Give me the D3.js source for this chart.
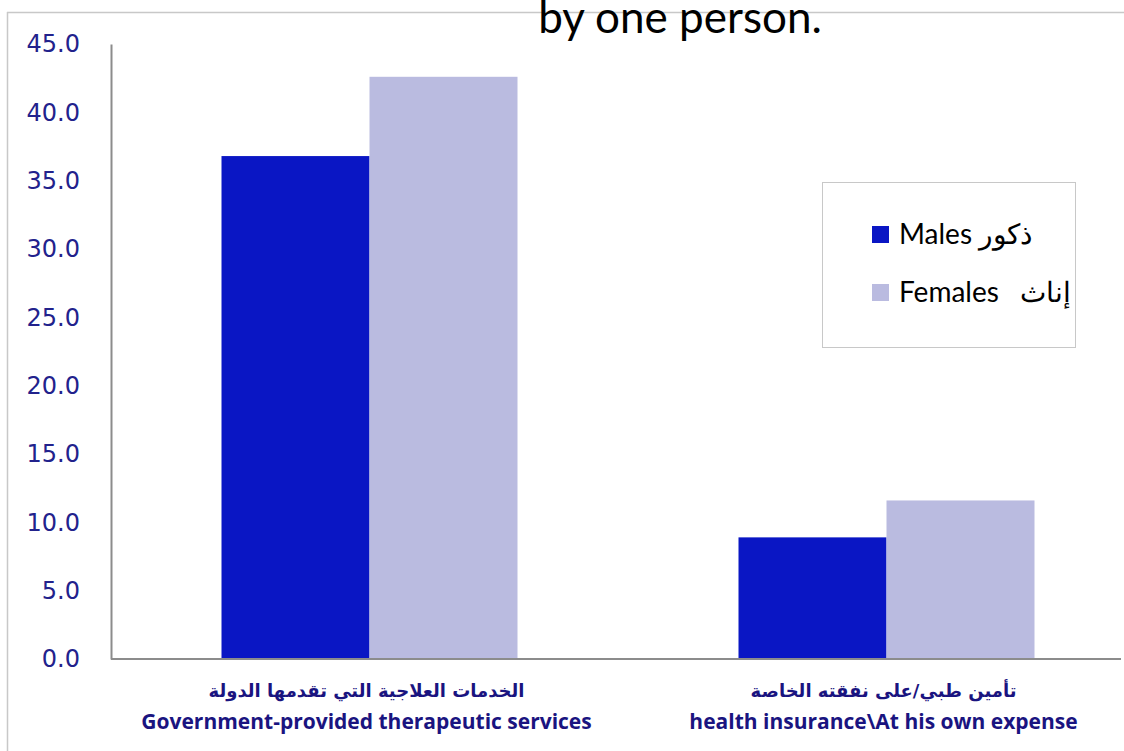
<!DOCTYPE html>
<html>
<head>
<meta charset="utf-8">
<script src="https://cdn.jsdelivr.net/npm/d3@7"></script>
<style>
  body { margin: 0; background: #fff; }
  svg { display: block; }
</style>
</head>
<body>
<div id="chart"></div>
<script>
// data
const categories = ["gov", "insurance"];
const categoryArabic = ["الخدمات العلاجية التي تقدمها الدولة", "تأمين طبي/على نفقته الخاصة"];
const categoryEnglish = ["Government-provided therapeutic services", "health insurance\\At his own expense"];
const seriesNames = ["Males ذكور", "Females   إناث"];
const males = [36.8, 8.9];
const females = [42.6, 11.6];
const yTicks = [0, 5, 10, 15, 20, 25, 30, 35, 40, 45];
const titleText = "by one person.";

const W = 1124, H = 751;
const colors = ["#0a16c4", "#babbe0"];

const svg = d3.select("#chart").append("svg")
    .attr("width", W)
    .attr("height", H);

// frame of the slide
svg.append("line").attr("x1", 7.5).attr("x2", 7.5).attr("y1", 12).attr("y2", H)
    .attr("stroke", "#c8c8c8").attr("stroke-width", 1.5);
svg.append("line").attr("x1", 7).attr("x2", W).attr("y1", 12.5).attr("y2", 12.5)
    .attr("stroke", "#c8c8c8").attr("stroke-width", 1.5);

const margin = {left: 111, top: 44, bottom: 659};

const y = d3.scaleLinear().domain([0, 45]).range([margin.bottom, margin.top]);

// plot extends past the right edge (picture is cropped)
const x0 = d3.scaleBand().domain(categories).range([margin.left, margin.left + 1034]);
const groupW = 296;
const x1 = d3.scaleBand().domain([0, 1]).range([0, groupW]);

const data = categories.map((c, i) => ({cat: c, vals: [males[i], females[i]]}));

// bars
const groups = svg.selectAll(".grp").data(data).enter().append("g")
    .attr("transform", d => "translate(" + (x0(d.cat) + (x0.bandwidth() - groupW) / 2) + ",0)");

groups.selectAll("rect").data(d => d.vals).enter().append("rect")
    .attr("x", (d, i) => x1(i))
    .attr("y", d => y(d))
    .attr("width", x1.bandwidth())
    .attr("height", d => y(0) - y(d))
    .attr("fill", (d, i) => colors[i]);

// y axis
const yAxis = svg.append("g")
    .attr("transform", "translate(" + margin.left + ",0)")
    .call(d3.axisLeft(y).tickValues(yTicks).tickSize(0).tickPadding(31).tickFormat(d3.format(".1f")));
yAxis.select(".domain").attr("stroke", "#8c8c8c").attr("stroke-width", 2);
yAxis.selectAll("text")
    .attr("font-family", "DejaVu Sans")
    .attr("font-size", 24)
    .attr("fill", "#22228c");

// x axis line
svg.append("line")
    .attr("x1", margin.left).attr("x2", W - 3)
    .attr("y1", y(0)).attr("y2", y(0))
    .attr("stroke", "#8c8c8c").attr("stroke-width", 2);

// category labels
const labels = svg.selectAll(".catlabel").data(categories).enter().append("g")
    .attr("transform", d => "translate(" + (x0(d) + x0.bandwidth() / 2 - 3) + ",0)");
labels.append("text")
    .attr("y", 697)
    .attr("text-anchor", "middle")
    .attr("font-family", "DejaVu Sans")
    .attr("font-weight", "bold")
    .attr("font-size", 18)
    .attr("fill", "#1a1480")
    .text((d, i) => categoryArabic[i]);
labels.append("text")
    .attr("y", 729)
    .attr("text-anchor", "middle")
    .attr("font-family", "Open Sans")
    .attr("font-weight", "bold")
    .attr("font-size", 21)
    .attr("fill", "#1a1480")
    .text((d, i) => categoryEnglish[i]);

// legend
const legend = svg.append("g");
legend.append("rect")
    .attr("x", 822.5).attr("y", 182.5).attr("width", 253).attr("height", 165)
    .attr("fill", "#fff").attr("stroke", "#c8c8c8").attr("stroke-width", 1);
const items = legend.selectAll(".item").data(seriesNames).enter().append("g")
    .attr("transform", (d, i) => "translate(872," + (226 + i * 58) + ")");
items.append("rect")
    .attr("width", 17).attr("height", 17)
    .attr("fill", (d, i) => colors[i]);
items.append("text")
    .attr("x", 27).attr("y", 18)
    .attr("font-family", "Lato")
    .attr("font-size", 28)
    .attr("fill", "#000")
    .attr("direction", "ltr")
    .style("white-space", "pre")
    .text(d => d);

// title (cut off at the top)
svg.append("text")
    .attr("x", 680).attr("y", 33)
    .attr("text-anchor", "middle")
    .attr("font-family", "Lato")
    .attr("font-size", 44)
    .attr("fill", "#000")
    .text(titleText);
</script>
</body>
</html>
